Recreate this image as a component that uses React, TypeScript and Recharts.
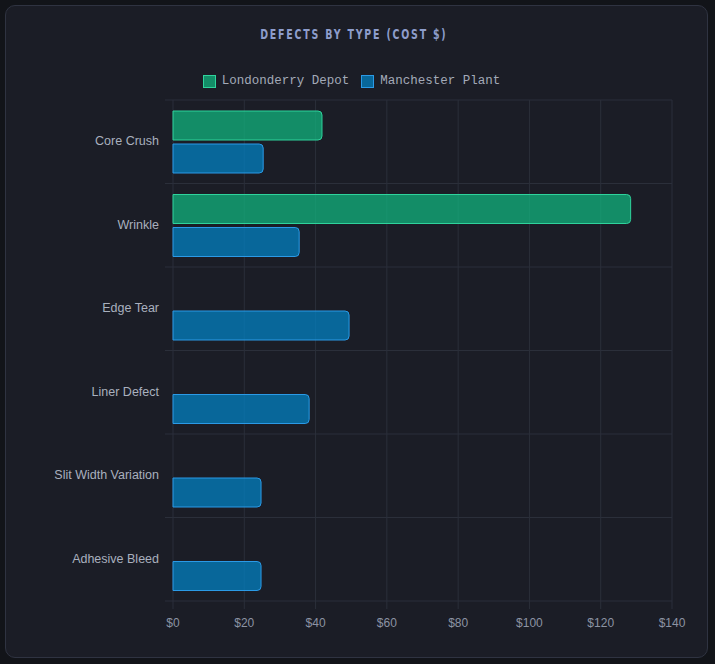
import React from 'react';
import { BarChart, Bar, XAxis, YAxis, CartesianGrid } from 'recharts';

const defectTypes = ['Core Crush', 'Wrinkle', 'Edge Tear', 'Liner Defect', 'Slit Width Variation', 'Adhesive Bleed'];
const londonderryCost = [41.8, 128.4, 0, 0, 0, 0];
const manchesterCost = [25.3, 35.4, 49.4, 38.2, 24.7, 24.7];
const xTicks = [0, 20, 40, 60, 80, 100, 120, 140];

const SERIES = [
  { key: 'londonderry', name: 'Londonderry Depot', fill: 'rgba(16,185,129,0.72)', stroke: '#2fd39c' },
  { key: 'manchester', name: 'Manchester Plant', fill: 'rgba(2,132,199,0.72)', stroke: '#2b9ae6' },
];

const data = defectTypes.map((type, i) => ({
  type,
  londonderry: londonderryCost[i],
  manchester: manchesterCost[i],
}));

const GRID = '#2b2f3a';

// lines sit on the category boundaries, not the band centres
const boundaryLines = ({ offset }: any) => {
  const step = offset.height / defectTypes.length;
  return defectTypes.map((_, i) => offset.top + i * step).concat(offset.top + offset.height);
};

export default function App() {
  return (
    <div style={{ position: 'fixed', left: 0, top: 0, width: 715, height: 664, background: '#121419', overflow: 'hidden' }}>
      <div
        style={{
          position: 'absolute', left: 5, top: 5, width: 701, height: 651,
          background: '#1b1d26', border: '1px solid #2f3341', borderRadius: 10,
        }}
      />
      <div style={{ position: 'absolute', left: 0, width: 707, top: 25, textAlign: 'center' }}>
        <span
          style={{
            display: 'inline-block', transform: 'scaleX(0.75)',
            fontFamily: '"DejaVu Sans Condensed", "DejaVu Sans", sans-serif',
            fontWeight: 700, fontSize: 14, letterSpacing: 2.4, color: '#8e9dcc',
          }}
        >
          DEFECTS BY TYPE (COST $)
        </span>
      </div>
      <div
        style={{
          position: 'absolute', left: 0, width: 703, top: 74, display: 'flex', justifyContent: 'center',
          gap: 12, fontFamily: '"Liberation Mono", "DejaVu Sans Mono", monospace', fontSize: 12.5, color: '#a3aab8',
        }}
      >
        {SERIES.map((s) => (
          <div key={s.key} style={{ display: 'flex', alignItems: 'center', gap: 6 }}>
            <span style={{ width: 11, height: 11, background: s.fill, border: `1px solid ${s.stroke}`, display: 'inline-block' }} />
            <span>{s.name}</span>
          </div>
        ))}
      </div>
      <div style={{ position: 'absolute', left: 0, top: 0 }}>
        <BarChart
          width={715}
          height={664}
          data={data}
          layout="vertical"
          margin={{ top: 100, right: 43, bottom: 33, left: 0 }}
          barCategoryGap="10%"
          barGap={4}
          barSize={29}
        >
          <CartesianGrid
            stroke={GRID}
            horizontalCoordinatesGenerator={boundaryLines}
            horizontal={(p: any) => (
              <line key={`h-${p.index}`} x1={p.x1 - 8} x2={p.x2} y1={p.y1} y2={p.y2} stroke={GRID} strokeWidth={1} />
            )}
          />
          <XAxis
            type="number"
            domain={[0, 140]}
            ticks={xTicks}
            tickFormatter={(v) => `$${v}`}
            axisLine={false}
            tickLine={{ stroke: GRID }}
            tickSize={8}
            tickMargin={9}
            tick={{ fill: '#8c93a3', fontSize: 12, fontFamily: 'Arial, "Liberation Sans", sans-serif' }}
            height={30}
          />
          <YAxis
            type="category"
            dataKey="type"
            width={173}
            axisLine={false}
            tickLine={false}
            tickSize={0}
            tickMargin={14}
            tick={{ fill: '#a9b0be', fontSize: 12.5, dy: -1, fontFamily: 'Arial, "Liberation Sans", sans-serif' }}
          />
          {SERIES.map((s) => (
            <Bar
              key={s.key}
              dataKey={s.key}
              name={s.name}
              fill={s.fill}
              stroke={s.stroke}
              strokeWidth={1}
              radius={[0, 4, 4, 0]}
              isAnimationActive={false}
            />
          ))}
        </BarChart>
      </div>
    </div>
  );
}
